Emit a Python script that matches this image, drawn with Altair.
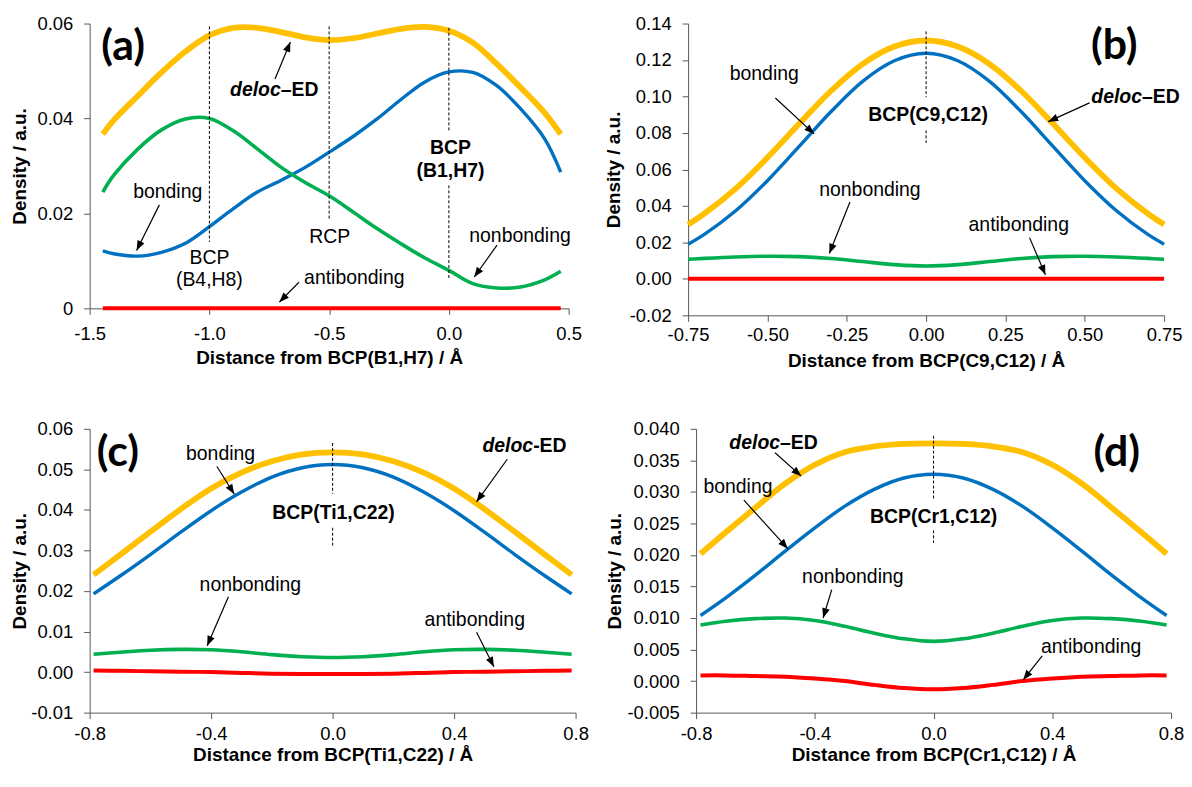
import math
import altair as alt
import pandas as pd

FONT = "Liberation Sans"
PFONT = "Lato"
AXC = "#595959"
TXT = 19.5

COLORS = {"deloc": "#FFC000", "bond": "#0070C0", "non": "#00B050", "anti": "#FF0000"}
WIDTHS = {"deloc": 5.8, "bond": 3.4, "non": 3.6, "anti": 4.0}
ORDER = ["deloc", "bond", "non", "anti"]
ARROW = "M0,0L-0.7,1.8L0.7,1.8Z"

# ---------------- panel (a) data ----------------
a_x = [-1.445, -1.4, -1.3, -1.2, -1.1, -1.0, -0.9, -0.8, -0.7, -0.6, -0.5,
       -0.4, -0.3, -0.2, -0.1, 0.0, 0.1, 0.2, 0.3, 0.4, 0.467]
a_deloc = [0.0367, 0.0396, 0.0447, 0.0497, 0.0541, 0.0575, 0.0591, 0.0591, 0.0582, 0.0571, 0.0565,
           0.0569, 0.0579, 0.0589, 0.0593, 0.0585, 0.0560, 0.0515, 0.0465, 0.0412, 0.0367]
a_bond = [0.0121, 0.0115, 0.0110, 0.0118, 0.0137, 0.0172, 0.0210, 0.0245, 0.0270, 0.0297, 0.0329,
          0.0362, 0.0399, 0.0440, 0.0477, 0.0498, 0.0497, 0.0469, 0.0420, 0.0357, 0.0287]
a_non = [0.0245, 0.0280, 0.0335, 0.0376, 0.0399, 0.0400, 0.0374, 0.0336, 0.0297, 0.0265, 0.0237,
         0.0203, 0.0168, 0.0136, 0.0106, 0.0080, 0.0052, 0.0043, 0.0045, 0.0060, 0.0078]
a_anti = [0.0, 0.0, 0.0, 0.0, 0.0, 0.0, 0.0, 0.0, 0.0, 0.0, 0.0,
          0.0, 0.0, 0.0, 0.0, 0.0, 0.0, 0.0, 0.0, 0.0, 0.0]

# ---------------- panel (b) data ----------------
b_x = [-0.75, -0.7, -0.6, -0.5, -0.4, -0.3, -0.2, -0.1, 0.0, 0.1, 0.2, 0.3, 0.4, 0.5, 0.6, 0.7, 0.75]
b_deloc = [0.0298, 0.0356, 0.0495, 0.0665, 0.0850, 0.1030, 0.1178, 0.1274, 0.1307,
           0.1274, 0.1178, 0.1030, 0.0850, 0.0665, 0.0495, 0.0356, 0.0298]
b_bond = [0.0190, 0.0242, 0.0373, 0.0538, 0.0726, 0.0916, 0.1083, 0.1196, 0.1237,
          0.1196, 0.1083, 0.0916, 0.0726, 0.0538, 0.0373, 0.0242, 0.0190]
b_non = [0.0107, 0.0112, 0.0120, 0.0124, 0.0122, 0.0112, 0.0095, 0.0078, 0.0070,
         0.0078, 0.0095, 0.0112, 0.0122, 0.0124, 0.0120, 0.0112, 0.0107]
b_anti = [0.0, 0.0, 0.0, 0.0, 0.0, 0.0, 0.0, 0.0, 0.0,
          0.0, 0.0, 0.0, 0.0, 0.0, 0.0, 0.0, 0.0]

# ---------------- panel (c) data ----------------
c_x = [-0.787, -0.7, -0.6, -0.5, -0.4, -0.3, -0.2, -0.1, 0.0, 0.1, 0.2, 0.3, 0.4, 0.5, 0.6, 0.7, 0.787]
c_deloc = [0.0240, 0.0289, 0.0346, 0.0402, 0.0453, 0.0492, 0.0520, 0.0537, 0.0542,
           0.0537, 0.0520, 0.0492, 0.0453, 0.0402, 0.0346, 0.0289, 0.0240]
c_bond = [0.0193, 0.0237, 0.0290, 0.0345, 0.0398, 0.0444, 0.0481, 0.0504, 0.0512,
          0.0504, 0.0481, 0.0444, 0.0398, 0.0345, 0.0290, 0.0237, 0.0193]
c_non = [0.0044, 0.0049, 0.0054, 0.0056, 0.0055, 0.0050, 0.0043, 0.0038, 0.0036,
         0.0038, 0.0043, 0.0050, 0.0055, 0.0056, 0.0054, 0.0049, 0.0044]
c_anti = [0.0004, 0.0003, 0.0002, 0.0001, 0.0000, -0.0002, -0.0004, -0.0005, -0.0005,
          -0.0005, -0.0004, -0.0002, 0.0000, 0.0001, 0.0002, 0.0003, 0.0004]

# ---------------- panel (d) data ----------------
d_x = [-0.785, -0.7, -0.6, -0.5, -0.4, -0.3, -0.2, -0.1, 0.0, 0.1, 0.2, 0.3, 0.4, 0.5, 0.6, 0.7, 0.785]
d_deloc = [0.0202, 0.0236, 0.0275, 0.0313, 0.0343, 0.0363, 0.0372, 0.0376, 0.0377,
           0.0376, 0.0372, 0.0363, 0.0343, 0.0313, 0.0275, 0.0236, 0.0202]
d_bond = [0.0104, 0.0132, 0.0168, 0.0206, 0.0243, 0.0277, 0.0304, 0.0322, 0.0328,
          0.0322, 0.0304, 0.0277, 0.0243, 0.0206, 0.0168, 0.0132, 0.0104]
d_non = [0.0089, 0.0095, 0.0099, 0.0100, 0.0096, 0.0087, 0.0076, 0.0067, 0.0063,
         0.0067, 0.0076, 0.0087, 0.0096, 0.0100, 0.0099, 0.0095, 0.0089]
d_anti = [0.0009, 0.0009, 0.0008, 0.0007, 0.0004, 0.0000, -0.0006, -0.0011, -0.0013,
          -0.0011, -0.0006, 0.0000, 0.0004, 0.0007, 0.0008, 0.0009, 0.0009]

# ---------------- annotations (data coordinates) ----------------
a_texts = [("bonding", -1.174, 0.0246), ("BCP", -1.0, 0.0106), ("(B4,H8)", -1.0, 0.0059),
           ("RCP", -0.498, 0.0150), ("nonbonding", 0.297, 0.0152), ("antibonding", -0.395, 0.0063)]
a_bold = [("BCP", 0.007, 0.0337), ("(B1,H7)", 0.007, 0.0290)]
a_deloc_lbl = (-0.729, 0.0460, "–ED")
a_tag = ("(a)", -1.36, 0.0550)
a_arrows = [(-0.726, 0.0483, -0.662, 0.0561), (-1.209, 0.0218, -1.304, 0.0122),
            (0.201, 0.0133, 0.106, 0.0066), (-0.626, 0.0055, -0.708, 0.0013)]
a_dash = [(-1.0, 0.0594, 0.0140), (-0.5, 0.0594, 0.0189), (0.0, 0.0591, 0.0374), (0.0, 0.0259, 0.0063)]

b_texts = [("bonding", -0.51, 0.1125), ("nonbonding", -0.177, 0.0486), ("antibonding", 0.292, 0.0295)]
b_bold = [("BCP(C9,C12)", 0.006, 0.0899)]
b_deloc_lbl = (0.660, 0.0996, "–ED")
b_tag = ("(b)", 0.593, 0.1274)
b_arrows = [(-0.475, 0.0992, -0.353, 0.0795), (0.515, 0.0965, 0.385, 0.0862),
            (-0.24, 0.0421, -0.305, 0.0139), (0.326, 0.0226, 0.376, 0.0022)]
b_dash = [(0.0, 0.1357, 0.0996), (0.0, 0.0814, 0.0745)]

c_texts = [("bonding", -0.369, 0.0539), ("nonbonding", -0.271, 0.0215), ("antibonding", 0.468, 0.0128)]
c_bold = [("BCP(Ti1,C22)", 0.003, 0.0392)]
c_deloc_lbl = (0.639, 0.0557, "-ED")
c_tag = ("(c)", -0.707, 0.0541)
c_arrows = [(-0.381, 0.0507, -0.324, 0.0439), (0.575, 0.0525, 0.474, 0.0420),
            (-0.343, 0.0186, -0.413, 0.0065), (0.474, 0.0098, 0.531, 0.0013)]
c_dash = [(0.0, 0.0565, 0.0440), (0.0, 0.0356, 0.0309)]

d_texts = [("bonding", -0.659, 0.0307), ("nonbonding", -0.272, 0.0165), ("antibonding", 0.531, 0.0054)]
d_bold = [("BCP(Cr1,C12)", 0.0, 0.0260)]
d_deloc_lbl = (-0.539, 0.0378, "–ED")
d_tag = ("(d)", 0.617, 0.0362)
d_arrows = [(-0.534, 0.0362, -0.446, 0.0325), (-0.639, 0.0287, -0.491, 0.0210),
            (-0.343, 0.0145, -0.372, 0.0100), (0.366, 0.0040, 0.302, 0.0002)]
d_dash = [(0.0, 0.0389, 0.0287), (0.0, 0.0239, 0.0219)]


def fmt_expr(fmt, zero_plain=False):
    base = f"replace(format(datum.value, '{fmt}'), '\u2212', '-')"
    if zero_plain:
        return f"abs(datum.value) < 1e-9 ? '0' : {base}"
    return base


def make_panel(p):
    W, H = p["W"], p["H"]
    xs = alt.Scale(domain=p["xdom"], nice=False, zero=False)
    ys = alt.Scale(domain=p["ydom"], nice=False, zero=False)
    xaxis = alt.Axis(values=p["xticks"], labelExpr=fmt_expr(p["xfmt"]), title=p["xtitle"],
                     grid=False, tickSize=6, tickColor=AXC, domainColor=AXC,
                     labelFont=FONT, labelFontSize=18.5, labelColor="black",
                     labelPadding=p["xlp"], labelFlush=False, labelOverlap=False,
                     titleFont=FONT, titleFontSize=19, titleFontWeight="bold",
                     titleColor="black", titlePadding=p["xtp"])
    yaxis = alt.Axis(values=p["yticks"], labelExpr=fmt_expr(p["yfmt"], p.get("yzero", False)),
                     title="Density / a.u.", grid=False, tickSize=6, tickColor=AXC, domainColor=AXC,
                     labelFont=FONT, labelFontSize=18.5, labelColor="black",
                     labelPadding=11, labelFlush=False, labelOverlap=False,
                     titleFont=FONT, titleFontSize=19, titleFontWeight="bold",
                     titleColor="black", titleX=p["ytx"], titleY=H / 2,
                     titleBaseline="middle", titleAngle=270)
    px = W / (p["xdom"][1] - p["xdom"][0])
    py = H / (p["ydom"][1] - p["ydom"][0])

    def X(field):
        return alt.X(field, scale=xs, axis=xaxis)

    def Y(field):
        return alt.Y(field, scale=ys, axis=yaxis)

    layers = []
    for key in ORDER:
        df = pd.DataFrame({"x": p["x"], "y": p[key]})
        layers.append(
            alt.Chart(df).mark_line(color=COLORS[key], strokeWidth=WIDTHS[key],
                                    interpolate="catmull-rom")
            .encode(x=X("x:Q"), y=Y("y:Q"))
        )

    ddf = pd.DataFrame(p["dash"], columns=["x", "y", "y2"])
    layers.append(
        alt.Chart(ddf).mark_rule(color="black", strokeWidth=1, strokeDash=[3, 2])
        .encode(x=X("x:Q"), y=Y("y:Q"), y2="y2:Q")
    )

    adf = pd.DataFrame(p["arrows"], columns=["x", "y", "x2", "y2"])
    adf["ang"] = [
        (math.degrees(math.atan2((r.x2 - r.x) * px, (r.y2 - r.y) * py)) + 360) % 360
        for r in adf.itertuples()
    ]
    layers.append(
        alt.Chart(adf).mark_rule(color="black", strokeWidth=1.2)
        .encode(x=X("x:Q"), y=Y("y:Q"), x2="x2:Q", y2="y2:Q")
    )
    layers.append(
        alt.Chart(adf).mark_point(shape=ARROW, filled=True, size=120, color="black",
                                  opacity=1, strokeWidth=0)
        .encode(x=X("x2:Q"), y=Y("y2:Q"), angle=alt.Angle("ang:Q", scale=None))
    )

    tdf = pd.DataFrame(p["texts"], columns=["t", "x", "y"])
    layers.append(
        alt.Chart(tdf).mark_text(font=FONT, fontSize=TXT, color="black", baseline="middle")
        .encode(x=X("x:Q"), y=Y("y:Q"), text="t:N")
    )
    bdf = pd.DataFrame(p["bold"], columns=["t", "x", "y"])
    layers.append(
        alt.Chart(bdf).mark_text(font=FONT, fontSize=TXT, fontWeight="bold", color="black",
                                 baseline="middle")
        .encode(x=X("x:Q"), y=Y("y:Q"), text="t:N")
    )
    lx, ly, tail = p["deloc_lbl"]
    ldf = pd.DataFrame({"x": [lx], "y": [ly], "t1": ["deloc"], "t2": [tail]})
    layers.append(
        alt.Chart(ldf).mark_text(font=FONT, fontSize=TXT, fontWeight="bold", fontStyle="italic",
                                 color="black", align="right", baseline="middle", dx=6.5)
        .encode(x=X("x:Q"), y=Y("y:Q"), text="t1:N")
    )
    layers.append(
        alt.Chart(ldf).mark_text(font=FONT, fontSize=TXT, fontWeight="bold",
                                 color="black", align="left", baseline="middle", dx=6.5)
        .encode(x=X("x:Q"), y=Y("y:Q"), text="t2:N")
    )
    gt, gx, gy = p["tag"]
    gdf = pd.DataFrame({"t": [gt], "x": [gx], "y": [gy]})
    layers.append(
        alt.Chart(gdf).mark_text(font=PFONT, fontSize=43, fontWeight="bold", color="black",
                                 baseline="middle")
        .encode(x=X("x:Q"), y=Y("y:Q"), text="t:N")
    )
    return alt.layer(*layers).properties(width=W, height=H)


pa = make_panel(dict(
    W=481, H=286, xdom=[-1.5, 0.5], ydom=[0.0, 0.06],
    xticks=[-1.5, -1.0, -0.5, 0.0, 0.5], xfmt=".1f",
    yticks=[0.0, 0.02, 0.04, 0.06], yfmt=".2f", yzero=True,
    xtitle="Distance from BCP(B1,H7) / Å", xlp=10, xtp=6, ytx=-70,
    x=a_x, deloc=a_deloc, bond=a_bond, non=a_non, anti=a_anti,
    texts=a_texts, bold=a_bold, deloc_lbl=a_deloc_lbl, tag=a_tag, arrows=a_arrows, dash=a_dash))

pb = make_panel(dict(
    W=478, H=293, xdom=[-0.75, 0.75], ydom=[-0.02, 0.14],
    xticks=[-0.75, -0.5, -0.25, 0.0, 0.25, 0.5, 0.75], xfmt=".2f",
    yticks=[-0.02, 0.0, 0.02, 0.04, 0.06, 0.08, 0.1, 0.12, 0.14], yfmt=".2f",
    xtitle="Distance from BCP(C9,C12) / Å", xlp=4, xtp=8, ytx=-75,
    x=b_x, deloc=b_deloc, bond=b_bond, non=b_non, anti=b_anti,
    texts=b_texts, bold=b_bold, deloc_lbl=b_deloc_lbl, tag=b_tag, arrows=b_arrows, dash=b_dash))

pc = make_panel(dict(
    W=488, H=285, xdom=[-0.8, 0.8], ydom=[-0.01, 0.06],
    xticks=[-0.8, -0.4, 0.0, 0.4, 0.8], xfmt=".1f",
    yticks=[-0.01, 0.0, 0.01, 0.02, 0.03, 0.04, 0.05, 0.06], yfmt=".2f",
    xtitle="Distance from BCP(Ti1,C22) / Å", xlp=6, xtp=3, ytx=-70,
    x=c_x, deloc=c_deloc, bond=c_bond, non=c_non, anti=c_anti,
    texts=c_texts, bold=c_bold, deloc_lbl=c_deloc_lbl, tag=c_tag, arrows=c_arrows, dash=c_dash))

pd_ = make_panel(dict(
    W=477, H=285, xdom=[-0.8, 0.8], ydom=[-0.005, 0.04],
    xticks=[-0.8, -0.4, 0.0, 0.4, 0.8], xfmt=".1f",
    yticks=[-0.005, 0.0, 0.005, 0.01, 0.015, 0.02, 0.025, 0.03, 0.035, 0.04], yfmt=".3f",
    xtitle="Distance from BCP(Cr1,C12) / Å", xlp=6, xtp=3, ytx=-82,
    x=d_x, deloc=d_deloc, bond=d_bond, non=d_non, anti=d_anti,
    texts=d_texts, bold=d_bold, deloc_lbl=d_deloc_lbl, tag=d_tag, arrows=d_arrows, dash=d_dash))

row1 = alt.hconcat(pa, pb, spacing=120, bounds="flush")
row2 = alt.hconcat(pc, pd_, spacing=121, bounds="flush")

chart = alt.vconcat(row1, row2, spacing=49).properties(
    padding={"left": 3, "top": 5, "right": 0, "bottom": 0},
    background="white",
).configure_view(strokeWidth=0)

chart.save("out.html", embed_options={"renderer": "svg", "actions": False})
